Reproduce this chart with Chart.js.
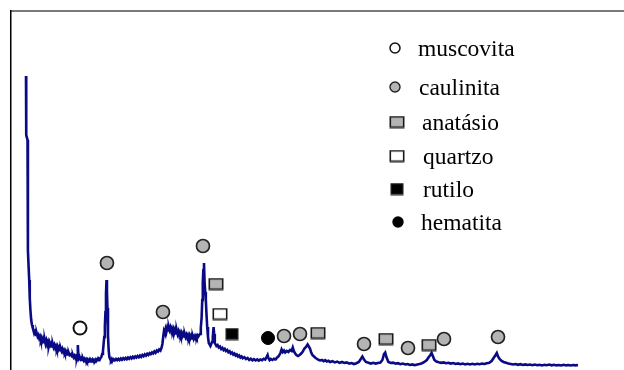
<!DOCTYPE html>
<html>
<head>
<meta charset="utf-8">
<script src="https://cdn.jsdelivr.net/npm/chart.js@4.4.0/dist/chart.umd.min.js"></script>
<style>
  body { margin: 0; background: #fff; }
  #wrap { width: 624px; height: 370px; position: relative; }
</style>
</head>
<body>
<div id="wrap"><canvas id="xrd"></canvas></div>
<script>
// diffractogram: [2theta (deg), counts]
const pattern = [
  [2.00,2940],[2.03,2350],[2.19,2300],[2.24,1200],[2.30,1080],[2.40,900],[2.47,720],[2.55,600],
  [2.65,500],[2.75,450],[2.85,420],[2.95,395],[3.05,370],[3.15,385],[3.25,350],[3.35,365],
  [3.45,335],[3.55,350],[3.65,318],[3.75,335],[3.85,300],[3.95,322],[4.05,290],[4.15,310],
  [4.25,278],[4.35,300],[4.45,262],[4.55,292],[4.65,255],[4.75,280],[4.85,240],[4.95,275],
  [5.05,248],[5.15,265],[5.25,235],[5.35,258],[5.45,228],[5.55,250],[5.65,220],[5.75,240],
  [5.85,210],[5.95,235],[6.05,205],[6.15,225],[6.25,198],[6.35,215],[6.45,190],[6.55,210],
  [6.65,182],[6.75,198],[6.85,172],[6.95,190],[7.05,165],[7.15,180],[7.25,155],[7.35,170],
  [7.45,148],[7.65,160],[7.75,135],[7.85,150],[7.95,128],[8.05,142],[8.15,122],[8.25,138],
  [8.35,125],[8.42,150],[8.48,250],[8.54,160],[8.62,115],[8.72,128],[8.82,108],[8.92,120],
  [9.02,100],[9.12,115],[9.22,95],[9.32,110],[9.42,92],[9.52,106],[9.62,88],[9.72,104],
  [9.82,90],[9.92,102],[10.02,86],[10.12,100],[10.22,90],[10.32,104],[10.42,88],[10.52,100],
  [10.62,92],[10.72,106],[10.82,94],[10.92,108],[11.02,98],[11.12,112],[11.22,104],[11.32,120],
  [11.42,130],[11.52,160],[11.62,190],[11.70,260],[11.78,330],[11.86,440],[11.93,580],[12.00,760],
  [12.06,900],[12.12,780],[12.18,620],[12.25,350],[12.33,200],[12.42,130],[12.52,108],[12.62,95],
  [12.72,110],[12.82,92],[12.95,108],[13.10,96],[13.25,110],[13.40,98],[13.55,112],[13.70,100],
  [13.85,115],[14.00,102],[14.15,118],[14.30,106],[14.45,120],[14.60,108],[14.75,125],[14.90,112],
  [15.05,128],[15.20,116],[15.35,132],[15.50,120],[15.65,136],[15.80,124],[15.95,140],[16.10,128],
  [16.25,145],[16.40,132],[16.55,150],[16.70,138],[16.85,156],[17.00,144],[17.15,162],[17.30,150],
  [17.45,168],[17.60,158],[17.75,176],[17.90,165],[18.05,185],[18.20,172],[18.35,195],[18.50,185],
  [18.65,205],[18.80,195],[18.95,225],[19.05,260],[19.15,330],[19.25,390],[19.35,370],[19.45,410],
  [19.55,380],[19.65,420],[19.75,395],[19.85,430],[19.95,400],[20.05,425],[20.15,390],[20.25,415],
  [20.35,385],[20.45,410],[20.55,375],[20.65,400],[20.75,365],[20.85,395],[20.95,360],[21.05,385],
  [21.15,350],[21.25,375],[21.35,345],[21.45,370],[21.55,340],[21.65,362],[21.75,335],[21.85,358],
  [21.95,330],[22.05,352],[22.15,325],[22.25,348],[22.35,320],[22.45,345],[22.55,318],[22.65,340],
  [22.75,315],[22.85,338],[22.95,312],[23.05,335],[23.15,318],[23.25,340],[23.35,322],[23.45,345],
  [23.55,335],[23.65,350],[23.75,360],[23.85,420],[23.95,520],[24.03,700],[24.10,880],[24.17,1000],
  [24.25,1070],[24.32,880],[24.40,780],[24.48,700],[24.56,560],[24.65,430],[24.75,330],[24.85,270],
  [24.95,255],[25.05,240],[25.15,260],[25.25,280],[25.35,330],[25.45,430],[25.52,360],[25.60,270],
  [25.70,255],[25.80,240],[25.95,250],[26.10,225],[26.25,235],[26.40,210],[26.55,222],[26.70,200],
  [26.85,212],[27.00,190],[27.15,200],[27.30,178],[27.45,188],[27.60,165],[27.75,175],[27.90,155],
  [28.05,165],[28.20,145],[28.35,155],[28.50,135],[28.65,145],[28.80,125],[28.95,135],[29.10,118],
  [29.30,128],[29.50,110],[29.70,120],[29.90,100],[30.10,112],[30.30,96],[30.50,108],[30.70,95],
  [30.90,106],[31.10,94],[31.30,105],[31.50,98],[31.70,112],[31.90,104],[32.05,125],[32.20,150],
  [32.30,120],[32.45,98],[32.60,110],[32.80,100],[33.00,112],[33.20,105],[33.40,125],[33.60,140],
  [33.80,170],[33.95,205],[34.10,180],[34.25,195],[34.40,175],[34.60,190],[34.80,180],[35.00,200],
  [35.20,190],[35.35,225],[35.50,185],[35.65,165],[35.80,150],[36.00,140],[36.20,150],[36.40,165],
  [36.60,185],[36.80,215],[37.00,230],[37.20,255],[37.35,235],[37.50,215],[37.65,175],[37.80,150],
  [38.00,135],[38.20,120],[38.40,110],[38.60,100],[38.80,95],[39.00,100],[39.20,88],[39.40,98],
  [39.60,85],[39.80,92],[40.00,80],[40.30,88],[40.60,76],[40.90,84],[41.20,72],[41.50,80],
  [41.80,70],[42.10,76],[42.40,64],[42.70,70],[43.00,60],[43.30,68],[43.60,80],[43.85,110],
  [44.05,135],[44.25,105],[44.50,80],[44.80,72],[45.10,64],[45.40,72],[45.70,64],[46.00,70],
  [46.30,75],[46.55,100],[46.75,160],[46.90,175],[47.05,130],[47.30,80],[47.60,70],[47.90,74],
  [48.20,64],[48.50,68],[48.80,58],[49.10,64],[49.40,55],[49.70,60],[50.00,50],[50.30,56],
  [50.60,48],[50.90,56],[51.20,60],[51.50,68],[51.80,80],[52.10,100],[52.35,130],[52.55,150],
  [52.70,170],[52.85,140],[53.05,100],[53.30,85],[53.60,78],[53.90,72],[54.20,76],[54.50,68],
  [54.80,72],[55.10,64],[55.40,70],[55.70,60],[56.00,66],[56.30,58],[56.60,64],[56.90,56],
  [57.20,62],[57.50,55],[57.80,62],[58.10,56],[58.40,62],[58.70,58],[59.00,64],[59.30,60],
  [59.60,68],[59.90,72],[60.20,90],[60.45,120],[60.70,150],[60.85,170],[61.00,135],[61.20,110],
  [61.45,90],[61.70,80],[62.00,72],[62.30,64],[62.60,60],[62.90,55],[63.20,60],[63.50,52],
  [63.80,58],[64.10,50],[64.40,56],[64.70,50],[65.00,55],[65.30,48],[65.60,54],[65.90,48],
  [66.20,52],[66.50,46],[66.80,52],[67.10,48],[67.40,54],[67.70,47],[68.00,52],[68.30,46],
  [68.60,50],[68.90,45],[69.20,52],[69.50,46],[69.80,50],[70.10,45],[70.40,50],[70.70,46],
  [71.00,50]
];

// phase labels placed above the peaks: [2theta, counts]
const muscovita = [[8.75, 420]];
const caulinita = [[12.12, 1070], [19.12, 580], [24.12, 1240], [34.25, 340], [36.25, 360],
                   [44.25, 260], [49.75, 220], [54.25, 310], [61.0, 330]];
const anatasio  = [[25.75, 860], [38.5, 370], [47.0, 310], [52.38, 250]];
const quartzo   = [[26.25, 560]];
const rutilo    = [[27.75, 360]];
const hematita  = [[32.25, 320]];

const phaseNames = ['muscovita', 'caulinita', 'anatásio', 'quartzo', 'rutilo', 'hematita'];

const toXY = arr => arr.map(p => ({ x: p[0], y: p[1] }));

function boxMarker(w, h, fill) {
  const c = document.createElement('canvas');
  c.width = w + 2; c.height = h + 2;
  const g = c.getContext('2d');
  g.fillStyle = fill;
  g.fillRect(1, 1, w, h);
  g.strokeStyle = '#1a1a1a';
  g.lineWidth = 1.6;
  g.strokeRect(1.3, 1.3, w - 0.6, h - 0.6);
  return c;
}

const GRAY = '#b4b4b4';
const phaseStyles = [
  { pointStyle: 'circle', radius: 6.5, bg: '#ffffff', border: '#111', bw: 2 },
  { pointStyle: 'circle', radius: 6.5, bg: GRAY, border: '#222', bw: 1.7 },
  { pointStyle: boxMarker(14, 11, GRAY) },
  { pointStyle: boxMarker(14, 11, '#ffffff') },
  { pointStyle: boxMarker(12, 11, '#000000') },
  { pointStyle: 'circle', radius: 6.5, bg: '#000000', border: '#000', bw: 1 }
];
const phaseData = [muscovita, caulinita, anatasio, quartzo, rutilo, hematita];

const datasets = [{
  label: 'DRX',
  data: toXY(pattern),
  showLine: true,
  borderColor: '#0a0a84',
  borderWidth: 2.6,
  pointRadius: 0,
  tension: 0,
  order: 10
}];
phaseData.forEach((d, i) => {
  const s = phaseStyles[i];
  datasets.push({
    label: phaseNames[i],
    data: toXY(d),
    showLine: false,
    pointStyle: s.pointStyle,
    pointRadius: s.radius || 7,
    backgroundColor: s.bg || '#000',
    borderColor: s.border || '#000',
    borderWidth: s.bw || 0,
    order: 1
  });
});

// outer frame: grey top rule, black left rule
const framePlugin = {
  id: 'frame',
  afterDraw(chart) {
    const ctx = chart.ctx;
    ctx.save();
    ctx.strokeStyle = '#7a7a7a';
    ctx.lineWidth = 2;
    ctx.beginPath();
    ctx.moveTo(10, 11);
    ctx.lineTo(chart.width, 11);
    ctx.stroke();
    ctx.strokeStyle = '#000';
    ctx.lineWidth = 1.5;
    ctx.beginPath();
    ctx.moveTo(10.75, 10);
    ctx.lineTo(10.75, chart.height);
    ctx.stroke();
    ctx.restore();
  }
};

// key of the phase symbols, drawn in the upper right
const keyPlugin = {
  id: 'phaseKey',
  afterDraw(chart) {
    const ctx = chart.ctx;
    const rows = [48, 87, 122, 156, 189, 222];
    const symX = [395, 395, 397, 397, 397, 398];
    const textX = [418, 419, 422, 423, 423, 421];
    ctx.save();
    ctx.font = '23.5px "Liberation Serif", "Times New Roman", serif';
    ctx.textBaseline = 'middle';
    ctx.fillStyle = '#000';
    phaseNames.forEach((name, i) => {
      const s = phaseStyles[i];
      const y = rows[i];
      if (typeof s.pointStyle === 'string') {
        ctx.beginPath();
        ctx.arc(symX[i], y, 5, 0, Math.PI * 2);
        ctx.fillStyle = s.bg;
        ctx.fill();
        ctx.lineWidth = i === 0 ? 1.5 : 1.4;
        ctx.strokeStyle = s.border;
        ctx.stroke();
      } else {
        const img = s.pointStyle;
        ctx.drawImage(img, symX[i] - img.width / 2, y - img.height / 2);
      }
      ctx.fillStyle = '#000';
      ctx.fillText(name, textX[i], y + 2);
    });
    ctx.restore();
  }
};

new Chart(document.getElementById('xrd'), {
  type: 'scatter',
  data: { datasets },
  options: {
    responsive: true,
    maintainAspectRatio: false,
    animation: false,
    layout: { autoPadding: false, padding: { left: 10, right: 0, top: 10, bottom: 0 } },
    plugins: { legend: { display: false }, tooltip: { enabled: false } },
    scales: {
      x: { type: 'linear', min: 0, max: 76.75, display: false },
      y: { min: 0, max: 3600, display: false }
    }
  },
  plugins: [framePlugin, keyPlugin]
});
</script>
</body>
</html>
